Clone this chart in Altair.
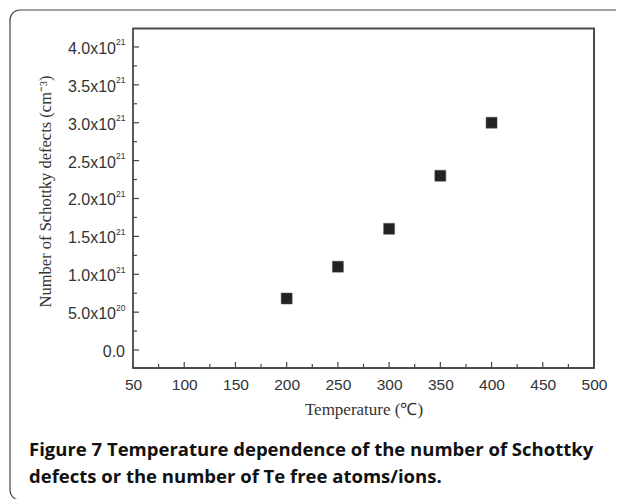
import altair as alt
import math
import pandas as pd

# data
temperatures = [200, 250, 300, 350, 400]
defects = [0.68e21, 1.10e21, 1.60e21, 2.30e21, 3.00e21]

x_major = [50, 100, 150, 200, 250, 300, 350, 400, 450, 500]
x_minor = [75, 125, 175, 225, 275, 325, 375, 425, 475]
y_major = [0.0, 0.5e21, 1.0e21, 1.5e21, 2.0e21, 2.5e21, 3.0e21, 3.5e21, 4.0e21]
y_minor = [0.25e21, 0.75e21, 1.25e21, 1.75e21, 2.25e21, 2.75e21, 3.25e21, 3.75e21]

# y tick labels: mantissa part and exponent part
y_lab_vals = [0.5e21, 1.0e21, 1.5e21, 2.0e21, 2.5e21, 3.0e21, 3.5e21, 4.0e21]
y_lab_main = ["5.0x10", "1.0x10", "1.5x10", "2.0x10", "2.5x10", "3.0x10", "3.5x10", "4.0x10"]
y_lab_exp = ["20", "21", "21", "21", "21", "21", "21", "21"]
y_zero_label = "0.0"

caption_lines = [
    "Figure 7 Temperature dependence of the number of Schottky",
    "defects or the number of Te free atoms/ions.",
]

W, H = 461, 340
xscale = alt.Scale(domain=[50, 500], nice=False, zero=False)
yscale = alt.Scale(domain=[-0.237e21, 4.25e21], nice=False, zero=False)

pts = pd.DataFrame({"T": temperatures, "N": defects})

points = alt.Chart(pts).mark_square(size=121, color="#222222", opacity=1,
                                    stroke="#555555", strokeWidth=0.5).encode(
    x=alt.X("T:Q", scale=xscale,
            axis=alt.Axis(values=x_major, ticks=False, domain=False, grid=False,
                          labelFlush=False,
                          labelFont="Liberation Sans", labelFontSize=15.5,
                          labelColor="#333333", labelPadding=9,
                          title="Temperature (\u2103)", titleFont="Liberation Serif",
                          titleFontSize=17, titleFontWeight="normal",
                          titleColor="#333333", titlePadding=9)),
    y=alt.Y("N:Q", scale=yscale,
            axis=alt.Axis(values=y_major, ticks=False, domain=False, grid=False,
                          labels=False,
                          title="Number of Schottky defects (cm\u207b\u00b3)",
                          titleFont="Liberation Serif", titleFontSize=16.5,
                          titleFontWeight="normal", titleColor="#333333",
                          titleX=-88, titleY=163, titleBaseline="middle",
                          titleAngle=-90)),
)

def hrule(y, x1, x2, color, w):
    return alt.Chart(pd.DataFrame({"a": [0]})).mark_rule(color=color, strokeWidth=w).encode(
        y=alt.value(y), x=alt.value(x1), x2=alt.value(x2))

def vrule(x, y1, y2, color, w):
    return alt.Chart(pd.DataFrame({"a": [0]})).mark_rule(color=color, strokeWidth=w).encode(
        x=alt.value(x), y=alt.value(y1), y2=alt.value(y2))

def corner(cx, cy, t1, t2):
    return alt.Chart(pd.DataFrame({"a": [0]})).mark_arc(
        color="#444444", radius=10.6, radius2=9.4, theta=t1, theta2=t2
    ).encode(x=alt.value(cx), y=alt.value(cy))

box = [hrule(0.5, -0.8, W + 0.9, "#4a4a4a", 1.8), hrule(H, -0.8, W + 0.9, "#4a4a4a", 1.8),
       vrule(0, 0, H, "#4a4a4a", 1.8), vrule(W, 0, H, "#4a4a4a", 2.0)]

# outer rounded frame (left side rounded, right side beyond the page)
FL, FT, FB = -123, -18, 472
frame = [hrule(FT, FL + 10, 520, "#444444", 1.2), hrule(FB, FL + 10, 520, "#444444", 1.2),
         vrule(FL, FT + 10, FB - 10, "#444444", 1.2),
         corner(FL + 10, FT + 10, 1.5 * math.pi, 2 * math.pi),
         corner(FL + 10, FB - 10, math.pi, 1.5 * math.pi)]

xmaj = alt.Chart(pd.DataFrame({"v": x_major})).mark_rule(color="#444444", strokeWidth=1.2).encode(
    x=alt.X("v:Q", scale=xscale), y=alt.value(H), y2=alt.value(H - 6))
xmin = alt.Chart(pd.DataFrame({"v": x_minor})).mark_rule(color="#444444", strokeWidth=1.2).encode(
    x=alt.X("v:Q", scale=xscale), y=alt.value(H), y2=alt.value(H - 4))
ymaj = alt.Chart(pd.DataFrame({"v": y_major})).mark_rule(color="#444444", strokeWidth=1.2).encode(
    y=alt.Y("v:Q", scale=yscale), x=alt.value(0), x2=alt.value(6))
ymin = alt.Chart(pd.DataFrame({"v": y_minor})).mark_rule(color="#444444", strokeWidth=1.2).encode(
    y=alt.Y("v:Q", scale=yscale), x=alt.value(0), x2=alt.value(4))

ylab_df = pd.DataFrame({"v": y_lab_vals, "main": y_lab_main, "exp": y_lab_exp})
ylab_main = alt.Chart(ylab_df).mark_text(
    align="right", baseline="alphabetic", dy=7, font="Liberation Sans",
    fontSize=16, color="#333333"
).encode(y=alt.Y("v:Q", scale=yscale), x=alt.value(-17), text="main:N")
ylab_exp = alt.Chart(ylab_df).mark_text(
    align="left", baseline="alphabetic", dy=-1.5, font="Liberation Sans",
    fontSize=8.5, color="#333333"
).encode(y=alt.Y("v:Q", scale=yscale), x=alt.value(-17), text="exp:N")
ylab_zero = alt.Chart(pd.DataFrame({"v": [0.0], "t": [y_zero_label]})).mark_text(
    align="right", baseline="alphabetic", dy=7, font="Liberation Sans",
    fontSize=16, color="#333333"
).encode(y=alt.Y("v:Q", scale=yscale), x=alt.value(-8), text="t:N")

caption = alt.Chart(pd.DataFrame({"a": [0]})).mark_text(
    align="left", baseline="alphabetic", font="Open Sans", fontSize=18.5,
    fontWeight="bold", color="#111111", lineHeight=26.5
).encode(x=alt.value(-104), y=alt.value(428), text=alt.value(caption_lines))

chart = alt.layer(*frame, xmaj, xmin, ymaj, ymin, points,
                  ylab_main, ylab_exp, ylab_zero, caption, *box).properties(
    width=W, height=H,
    autosize=alt.AutoSizeParams(type="none"),
    padding={"left": 125, "top": 20, "right": 22, "bottom": 131},
).configure_view(stroke=None).configure(background="white")

chart.save("out.html", embed_options={"renderer": "svg", "actions": False})
